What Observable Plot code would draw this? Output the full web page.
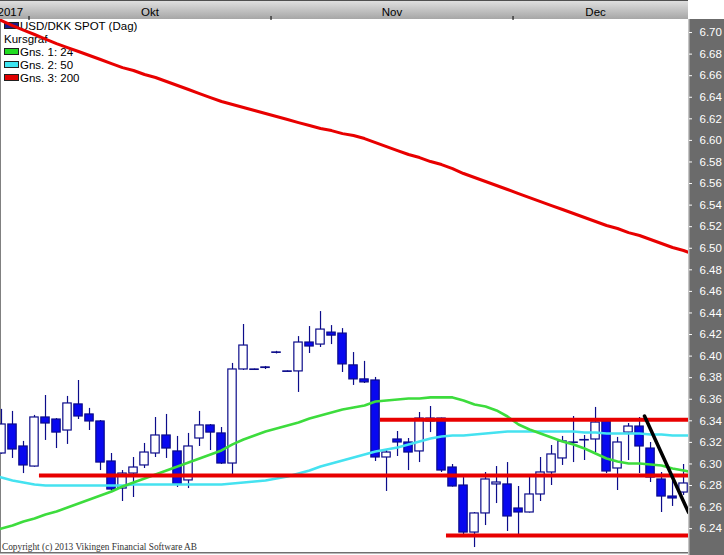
<!DOCTYPE html>
<html><head><meta charset="utf-8">
<script src="https://cdn.jsdelivr.net/npm/d3@7"></script>
<script src="https://cdn.jsdelivr.net/npm/@observablehq/plot@0.6"></script>
<style>html,body{margin:0;padding:0;background:#fff;overflow:hidden}</style>
</head><body><div id="chart"></div>
<script>
// ---- Data (USD/DKK daily candles, trading-day index 0 = 27 Sep 2017) ----
const open  = [6.3097,6.3366,6.3162,6.2976,6.3431,6.3412,6.3310,6.3552,6.3459,6.3394,6.3023,6.2772,6.2911,6.2986,6.3097,6.3264,6.3116,6.2847,6.3236,6.3357,6.3283,6.3004,6.3876,6.3876,6.3895,6.4030,6.3858,6.3858,6.4126,6.4107,6.4218,6.4209,6.3914,6.3784,6.3774,6.3060,6.3227,6.3199,6.3116,6.3394,6.3421,6.2967,6.2800,6.2364,6.2541,6.2810,6.2810,6.2587,6.2550,6.2717,6.2921,6.3051,6.3199,6.3218,6.3227,6.3394,6.2958,6.3291,6.3347,6.3143,6.2856,6.2698,6.2735];
const high  = [6.3506,6.3487,6.3209,6.3450,6.3635,6.3421,6.3626,6.3774,6.3515,6.3403,6.3097,6.2939,6.3060,6.3190,6.3431,6.3459,6.3255,6.3283,6.3487,6.3366,6.3338,6.3932,6.4293,6.3880,6.3904,6.4044,6.3862,6.4181,6.4274,6.4413,6.4283,6.4255,6.4033,6.3951,6.3802,6.3134,6.3301,6.3236,6.3477,6.3533,6.3425,6.2995,6.2874,6.2550,6.2921,6.2976,6.3013,6.2791,6.2893,6.3060,6.3171,6.3255,6.3440,6.3264,6.3524,6.3421,6.3246,6.3375,6.3431,6.3199,6.2921,6.2874,6.2995];
const low   = [6.3090,6.3051,6.2911,6.2970,6.3218,6.3143,6.3181,6.3412,6.3310,6.2939,6.2735,6.2652,6.2689,6.2958,6.3060,6.3051,6.2782,6.2772,6.3162,6.3125,6.2995,6.2893,6.3867,6.3870,6.3876,6.4020,6.3850,6.3663,6.4024,6.4080,6.4107,6.3848,6.3728,6.3746,6.3023,6.2745,6.3069,6.2939,6.3013,6.3291,6.2921,6.2785,6.2318,6.2225,6.2429,6.2633,6.2374,6.2337,6.2545,6.2652,6.2800,6.2986,6.3013,6.3032,6.3106,6.2911,6.2754,6.3032,6.2911,6.2828,6.2550,6.2606,6.2708];
const close = [6.3366,6.3134,6.2986,6.3431,6.3375,6.3291,6.3561,6.3440,6.3394,6.3013,6.2763,6.2911,6.2967,6.3106,6.3264,6.3143,6.2810,6.3162,6.3357,6.3291,6.3004,6.3876,6.4098,6.3872,6.3890,6.4034,6.3854,6.4126,6.4089,6.4246,6.4190,6.3923,6.3784,6.3756,6.3060,6.3106,6.3199,6.3106,6.3421,6.3421,6.2939,6.2791,6.2364,6.2541,6.2856,6.2828,6.2513,6.2550,6.2717,6.2921,6.3088,6.3209,6.3195,6.3222,6.3384,6.2930,6.3199,6.3347,6.3162,6.2874,6.2698,6.2680,6.2819];

// moving averages, index -1 .. 63
const maStart = -1;
const ma24  = [6.2374,6.2402,6.2429,6.2466,6.2494,6.2531,6.2559,6.2596,6.2633,6.2670,6.2707,6.2745,6.2791,6.2828,6.2865,6.2902,6.2939,6.2976,6.3013,6.3051,6.3088,6.3125,6.3181,6.3227,6.3264,6.3301,6.3329,6.3357,6.3384,6.3421,6.3450,6.3477,6.3505,6.3524,6.3542,6.3579,6.3589,6.3598,6.3607,6.3607,6.3617,6.3617,6.3617,6.3589,6.3552,6.3533,6.3496,6.3440,6.3366,6.3320,6.3283,6.3246,6.3209,6.3181,6.3143,6.3097,6.3051,6.3023,6.3004,6.3004,6.2995,6.2986,6.2958,6.2939,6.2921];
const ma50  = [6.2902,6.2874,6.2847,6.2828,6.2810,6.2800,6.2800,6.2800,6.2800,6.2800,6.2800,6.2800,6.2800,6.2810,6.2810,6.2810,6.2810,6.2810,6.2810,6.2810,6.2810,6.2810,6.2819,6.2828,6.2837,6.2847,6.2865,6.2884,6.2911,6.2939,6.2976,6.3004,6.3032,6.3060,6.3088,6.3116,6.3134,6.3153,6.3181,6.3209,6.3236,6.3255,6.3264,6.3264,6.3273,6.3283,6.3292,6.3301,6.3301,6.3301,6.3301,6.3301,6.3301,6.3301,6.3292,6.3292,6.3283,6.3283,6.3283,6.3283,6.3273,6.3273,6.3264,6.3264,6.3264];
const ma200 = [6.7149,6.7111,6.7065,6.7023,6.6982,6.6940,6.6898,6.6861,6.6824,6.6787,6.6750,6.6712,6.6675,6.6648,6.6611,6.6583,6.6546,6.6509,6.6472,6.6434,6.6397,6.6361,6.6333,6.6305,6.6277,6.6249,6.6221,6.6194,6.6165,6.6138,6.6110,6.6091,6.6063,6.6045,6.6017,6.5980,6.5943,6.5906,6.5869,6.5841,6.5804,6.5776,6.5739,6.5693,6.5656,6.5619,6.5582,6.5545,6.5507,6.5470,6.5433,6.5396,6.5359,6.5322,6.5285,6.5248,6.5211,6.5183,6.5145,6.5118,6.5081,6.5044,6.5007,6.4979,6.4942];

// horizontal support / resistance levels (start candle -> last candle)
const levelValues = [6.2893, 6.3409, 6.2337];
const levelFrom   = [3, 34, 40];
const levelTo     = [62, 62, 62];
// drawn trend line (candle index, value)
const trendIdx = [58, 62];
const trendVal = [6.3444, 6.2551];

// axis / labels
const yTicks = [6.24,6.26,6.28,6.30,6.32,6.34,6.36,6.38,6.40,6.42,6.44,6.46,6.48,6.50,6.52,6.54,6.56,6.58,6.60,6.62,6.64,6.66,6.68,6.70];
const monthBounds = [2.5, 24.5, 46.5];
const monthLabels = ["2017", "Okt", "Nov", "Dec"];
const monthLabelPos = [0.8, 13.5, 35.5, 54];
const legendLabels = ["USD/DKK SPOT (Dag)", "Kursgraf", "Gns. 1: 24", "Gns. 2: 50", "Gns. 3: 200"];
const legendColors = ["#1c1c8c", null, "#22dd22", "#3ee4f0", "#e00000"];
const copyright = "Copyright (c) 2013 Vikingen Financial Software AB";

// ---- build ----
const navy = "#0c0c8a", blue = "#0808f0";
const cGreen = "#3ddc3d", cCyan = "#45e2f0", cRed = "#e80000";
const half = 0.45;
const candles = open.map((o, i) => ({i, open: o, high: high[i], low: low[i], close: close[i]}));
const mas = ma24.map((v, k) => ({i: k + maStart, ma24: v, ma50: ma50[k], ma200: ma200[k]}));
const levels = levelValues.map((v, k) => ({v, from: levelFrom[k] + half, to: levelTo[k] + half}));
const trend = trendIdx.map((t, k) => ({i: t + half, v: trendVal[k]}));

const svg = Plot.plot({
  width: 724, height: 555,
  marginLeft: 0, marginRight: 36, marginTop: 19, marginBottom: 3,
  style: {fontFamily: "'Liberation Sans', Arial, sans-serif", background: "transparent", overflow: "visible"},
  x: {domain: [-1/11, 62 + half]},
  y: {domain: [6.2179, 6.7121]},
  marks: [
    Plot.axisY({anchor: "right", ticks: yTicks, tickFormat: d3.format(".2f"), tickSize: 3, tickPadding: 8, color: "white", fontSize: 11.5, label: null}),
    Plot.axisX({anchor: "top", ticks: monthBounds, tickFormat: () => "", tickSize: 4, color: "black", label: null}),
    Plot.text(monthLabels, {x: monthLabelPos, text: d => d, frameAnchor: "top", dy: -11.5, fontSize: 11.5, fill: "black"}),
    Plot.ruleX(candles, {x: "i", y1: "low", y2: "high", stroke: navy, strokeWidth: 1.2, clip: true}),
    Plot.rect(candles, {x1: d => d.i - 0.38, x2: d => d.i + 0.38, y1: "open", y2: "close",
      fill: d => d.close < d.open ? blue : "white", stroke: navy, strokeWidth: 1.2, clip: true}),
    Plot.line(mas, {x: "i", y: "ma50", stroke: cCyan, strokeWidth: 2.6, clip: true}),
    Plot.line(mas, {x: "i", y: "ma24", stroke: cGreen, strokeWidth: 2.6, clip: true}),
    Plot.line(mas, {x: "i", y: "ma200", stroke: cRed, strokeWidth: 3, clip: true}),
    Plot.ruleY(levels, {y: "v", x1: "from", x2: "to", stroke: cRed, strokeWidth: 4}),
    Plot.line(trend, {x: "i", y: "v", stroke: "black", strokeWidth: 3.5, clip: true})
  ]
});

// background chrome (header bar, axis panel, borders) + legend, beneath the marks
const bg = d3.create("svg:g").attr("text-anchor", "start");
const defs = bg.append("defs");
const grad = defs.append("linearGradient").attr("id", "hdr").attr("x1", 0).attr("y1", 0).attr("x2", 0).attr("y2", 1);
grad.append("stop").attr("offset", "0%").attr("stop-color", "#e2e2e2");
grad.append("stop").attr("offset", "100%").attr("stop-color", "#a6a6a6");
bg.append("rect").attr("x", 0).attr("y", 0).attr("width", 688).attr("height", 19).attr("fill", "url(#hdr)");
bg.append("rect").attr("x", 0).attr("y", 0).attr("width", 688).attr("height", 1).attr("fill", "#505050");
bg.append("rect").attr("x", 688).attr("y", 19).attr("width", 36).attr("height", 536).attr("fill", "#6b6b6b");
bg.append("rect").attr("x", 688).attr("y", 19).attr("width", 1.5).attr("height", 536).attr("fill", "#c4c4c4");
bg.append("rect").attr("x", 0).attr("y", 19).attr("width", 1).attr("height", 534).attr("fill", "#808080");
bg.append("rect").attr("x", 0).attr("y", 552).attr("width", 688).attr("height", 1.5).attr("fill", "#707070");
const leg = bg.append("g").attr("font-family", "'Liberation Sans', Arial, sans-serif").attr("font-size", 11.5).attr("fill", "black").attr("text-anchor", "start");
legendLabels.forEach((lab, k) => {
  const cy = 25 + k * 13;
  if (legendColors[k]) {
    leg.append("rect").attr("x", 4.5).attr("y", cy - 2.5).attr("width", 14).attr("height", 6)
      .attr("fill", legendColors[k]).attr("stroke", "#202020").attr("stroke-width", 1);
    leg.append("text").attr("x", 20).attr("y", cy + 4.5).text(lab);
  } else {
    leg.append("text").attr("x", 4).attr("y", cy + 4.5).text(lab);
  }
});
bg.append("text").attr("x", 2).attr("y", 550).attr("text-anchor", "start").attr("font-family", "'Liberation Serif', 'Times New Roman', serif")
  .attr("font-size", 9.3).attr("fill", "#333").text(copyright);
svg.insertBefore(bg.node(), svg.firstChild);

document.getElementById("chart").appendChild(svg);
</script></body></html>
